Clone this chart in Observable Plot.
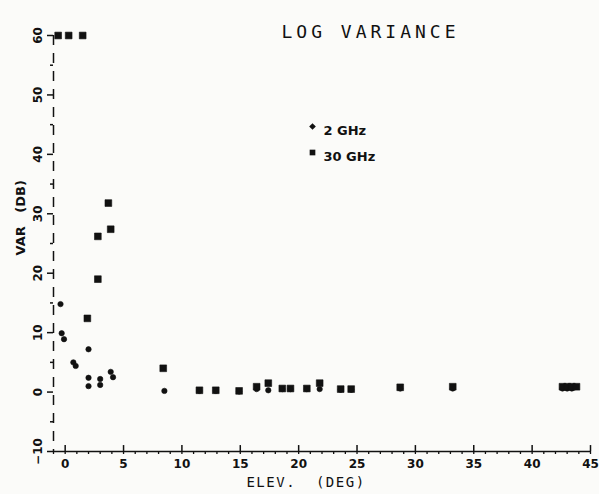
<!DOCTYPE html>
<html><head><meta charset="utf-8">
<script src="https://cdn.jsdelivr.net/npm/d3@7"></script>
<script src="https://cdn.jsdelivr.net/npm/@observablehq/plot@0.6"></script>
<style>
body{margin:0;background:#fbfbf9;}
g[font-family="DejaVu Sans Mono"][font-size="18"]{letter-spacing:4px;}
g[font-family="DejaVu Sans Mono"][font-size="14"]{letter-spacing:1.5px;}
</style></head><body><div id="chart"></div>
<script>
// 2 GHz series (elevation deg, log variance dB)
const elev2 = [-0.4, -0.3, -0.1, 0.7, 0.9, 2.0, 2.0, 2.0, 3.0, 3.0, 3.9, 4.1, 8.5, 11.5, 12.9, 14.9, 16.4, 17.4, 18.6, 19.3, 20.7, 21.8, 23.6, 24.5, 28.7, 33.2, 42.6, 43.0, 43.4];
const var2  = [14.8, 9.9, 8.9, 5.0, 4.4, 7.2, 2.4, 1.0, 2.2, 1.2, 3.4, 2.5, 0.2, 0.2, 0.2, 0.1, 0.5, 0.3, 0.5, 0.5, 0.5, 0.5, 0.4, 0.4, 0.6, 0.6, 0.6, 0.6, 0.6];
// 30 GHz series
const elev30 = [-0.6, 0.3, 1.5, 1.9, 2.8, 2.8, 3.7, 3.9, 8.4, 11.5, 12.9, 14.9, 16.4, 17.4, 18.6, 19.3, 20.7, 21.8, 23.6, 24.5, 28.7, 33.2, 42.6, 43.0, 43.4, 43.8];
const var30  = [60, 60, 60, 12.4, 19.0, 26.2, 31.8, 27.4, 4.0, 0.3, 0.3, 0.2, 0.9, 1.5, 0.6, 0.6, 0.6, 1.5, 0.5, 0.5, 0.8, 0.9, 0.9, 0.9, 0.9, 0.9];

const xTicks = [0, 5, 10, 15, 20, 25, 30, 35, 40, 45];
const xMinor = d3.range(-1, 46, 1);
const yTicks = [-10, 0, 10, 20, 30, 40, 50, 60];
const yMinor = [-5, 5, 15, 25, 35, 45, 55];
const legendLabels = ["2 GHz", "30 GHz"];
const title = "LOG VARIANCE";
const xLabel = "ELEV.  (DEG)";
const yLabel = "VAR   (DB)";

const d2 = elev2.map((x, i) => ({x, y: var2[i]}));
const d30 = elev30.map((x, i) => ({x, y: var30[i]}));
const ink = "#111";

const plot = Plot.plot({
  width: 599, height: 494,
  marginLeft: 53, marginRight: 9, marginTop: 35, marginBottom: 43,
  style: {background: "transparent", fontFamily: "DejaVu Sans", fontSize: "12px", color: ink},
  x: {domain: [-1, 45]},
  y: {domain: [-10, 60]},
  marks: [
    // x axis line and ticks
    Plot.ruleY([-10], {stroke: ink, strokeWidth: 1.6}),
    Plot.axisX({ticks: xMinor, tickSize: 3, tickFormat: () => "", label: null, stroke: ink, strokeWidth: 1.3}),
    Plot.ruleX(xTicks, {y1: -10, y2: -9, stroke: ink, strokeWidth: 1.5}),
    Plot.axisX({ticks: xTicks, tickSize: 0, tickPadding: 8, fontWeight: "bold", fontSize: 12, label: null}),
    // y axis (broken line as in the plotter original)
    Plot.ruleX([-1], {stroke: ink, strokeWidth: 1.5, strokeDasharray: "10,8"}),
    Plot.axisY({ticks: yTicks, tickSize: 6, tickPadding: 6, tickRotate: -90, fontWeight: "bold", fontSize: 12, label: null, stroke: ink, strokeWidth: 1.5}),
    Plot.axisY({ticks: yMinor, tickSize: 3, tickFormat: () => "", label: null, stroke: ink, strokeWidth: 1.5}),
    // data
    Plot.dot(d2, {x: "x", y: "y", symbol: "circle", r: 2.7, fill: ink, stroke: ink, strokeWidth: 0.6}),
    Plot.dot(d30, {x: "x", y: "y", symbol: "square", r: 3.8, fill: ink, stroke: ink, strokeWidth: 0.6}),
    // titles
    Plot.text([title], {frameAnchor: "top-left", dx: 317, dy: -10, text: d => d, fontFamily: "DejaVu Sans Mono", fontSize: 18, textAnchor: "middle", fill: ink}),
    Plot.text([xLabel], {frameAnchor: "bottom", dx: -16, dy: 35, text: d => d, fontFamily: "DejaVu Sans Mono", fontSize: 14, fill: ink}),
    Plot.text([yLabel], {frameAnchor: "left", dx: -33, dy: 12, rotate: -90, text: d => d, fontFamily: "DejaVu Sans", fontWeight: "bold", fontSize: 13, fill: ink}),
    // legend
    Plot.dot([legendLabels[0]], {frameAnchor: "top-left", dx: 259, dy: 91, symbol: "diamond2", r: 3, fill: ink}),
    Plot.dot([legendLabels[1]], {frameAnchor: "top-left", dx: 259, dy: 117, symbol: "square", r: 3.2, fill: ink}),
    Plot.text([legendLabels[0]], {frameAnchor: "top-left", dx: 270, dy: 90, text: d => d, textAnchor: "start", fontWeight: "bold", fontSize: 13, fill: ink}),
    Plot.text([legendLabels[1]], {frameAnchor: "top-left", dx: 270, dy: 116, text: d => d, textAnchor: "start", fontWeight: "bold", fontSize: 13, fill: ink})
  ]
});
document.getElementById("chart").append(plot);
</script></body></html>
